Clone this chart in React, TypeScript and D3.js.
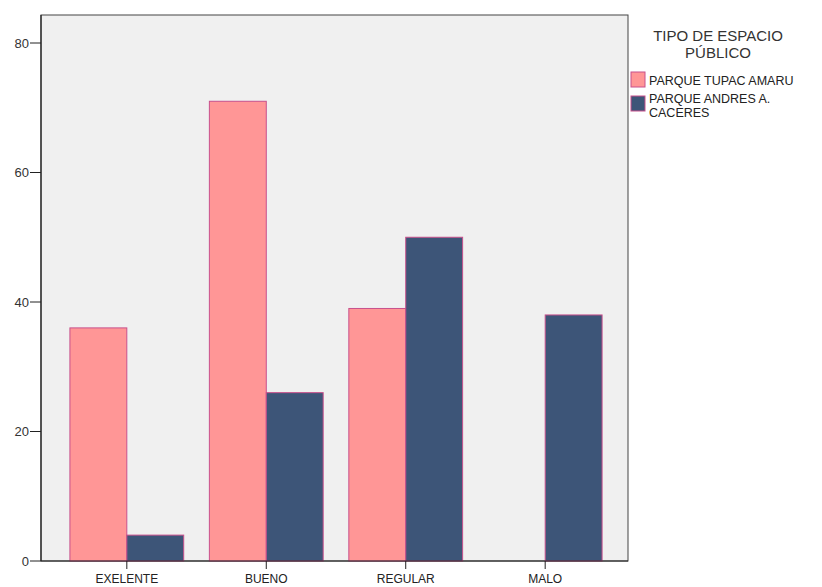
import React from "react";
import * as d3 from "d3";

const categories = ["EXELENTE", "BUENO", "REGULAR", "MALO"];
const seriesNames = ["PARQUE TUPAC AMARU", "PARQUE ANDRES A. CACERES"];
const tupacValues = [36, 71, 39, 0];
const caceresValues = [4, 26, 50, 38];
const yTicks = [0, 20, 40, 60, 80];
const colors = ["#FF9696", "#3D5578"];
const strokeColor = "#C8508C";

export default function App() {
  const W = 822, H = 587;
  const left = 41, right = 628, top = 15, bottom = 561;
  const x = d3.scaleBand<string>().domain(categories).range([left + 2, right + 1]).paddingInner(0.184).paddingOuter(0.193);
  const y = d3.scaleLinear().domain([0, 80]).range([bottom, 43]);
  const sub = d3.scaleBand<number>().domain([0, 1]).range([0, x.bandwidth()]);
  const series = [tupacValues, caceresValues];
  const font = "Arial, 'Liberation Sans', sans-serif";
  return (
    <svg width={W} height={H} style={{ position: "absolute", left: 0, top: 0 }} fontFamily={font}>
      <rect x={0} y={0} width={W} height={H} fill="#ffffff" />
      <rect x={left} y={top} width={right - left} height={bottom - top} fill="#F0F0F0" stroke="#444" strokeWidth={1} />
      {categories.map((c, i) =>
        series.map((vals, s) =>
          vals[i] > 0 ? (
            <rect key={c + s} x={(x(c) as number) + (sub(s) as number)} y={y(vals[i])}
              width={sub.bandwidth()} height={y(0) - y(vals[i])}
              fill={colors[s]} stroke={strokeColor} strokeWidth={1} />
          ) : null
        )
      )}
      <line x1={left} x2={right} y1={bottom} y2={bottom} stroke="#222" strokeWidth={1.2} />
      <line x1={left} x2={left} y1={top} y2={bottom} stroke="#222" strokeWidth={1.2} />
      {yTicks.map(t => (
        <g key={t}>
          <line x1={left - 11} x2={left} y1={y(t)} y2={y(t)} stroke="#222" />
          <text x={left - 12} y={y(t) + 4.5} textAnchor="end" fontSize={13} fill="#333">{t}</text>
        </g>
      ))}
      {categories.map(c => {
        const cx = (x(c) as number) + x.bandwidth() / 2;
        return (
          <g key={c}>
            <line x1={cx} x2={cx} y1={bottom} y2={bottom + 8} stroke="#222" />
            <text x={cx} y={bottom + 22} textAnchor="middle" fontSize={12} fill="#222">{c}</text>
          </g>
        );
      })}
      <text x={718} y={41} textAnchor="middle" fontSize={15} fill="#333">TIPO DE ESPACIO</text>
      <text x={718} y={58} textAnchor="middle" fontSize={15} fill="#333">PÚBLICO</text>
      <rect x={631} y={72} width={14} height={15} fill={colors[0]} stroke={strokeColor} />
      <text x={649} y={85} fontSize={12.5} fill="#222">{seriesNames[0]}</text>
      <rect x={631} y={96} width={14} height={15} fill={colors[1]} stroke={strokeColor} />
      <text x={649} y={103} fontSize={12.5} fill="#222">PARQUE ANDRES A.</text>
      <text x={649} y={117} fontSize={12.5} fill="#222">CACERES</text>
    </svg>
  );
}
